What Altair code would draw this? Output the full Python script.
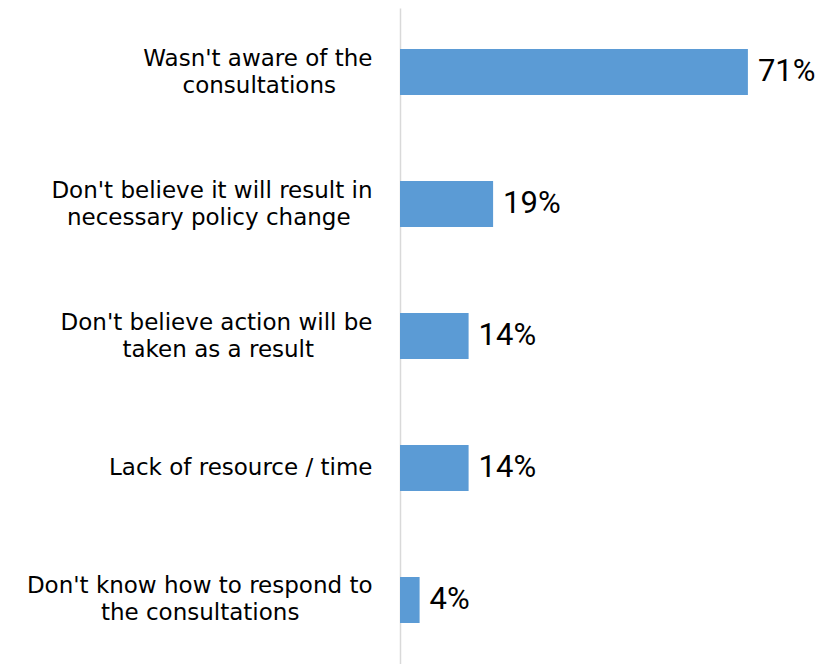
import altair as alt
import pandas as pd

categories = [
    "Wasn't aware of the|consultations",
    "Don't believe it will result in|necessary policy change",
    "Don't believe action will be|taken as a result",
    "Lack of resource / time",
    "Don't know how to respond to|the consultations",
]
values = [71, 19, 14, 14, 4]
value_labels = ["71%", "19%", "14%", "14%", "4%"]

PAD_CHAR = "\u00a0"  # no-break space
END_CHAR = "\u2060"  # word joiner keeps the trailing padding from hanging

# rough advance widths (em) of DejaVu Sans, used only to centre label lines
_W = {" ": .318, "'": .275, "i": .278, "l": .278, "j": .278, "t": .392,
      "f": .352, "r": .411, "/": .337, "s": .521, "c": .55, "z": .525,
      "k": .579, "v": .592, "y": .592, "x": .592, "m": .974, "w": .818,
      "W": .989, "D": .77, "L": .557, "T": .611}
_NBSP = .318


def _width(s):
    return sum(_W.get(ch, .62) for ch in s)


def centre_lines(label):
    lines = label.split("|")
    longest = max(_width(l) for l in lines)
    out = []
    for l in lines:
        n = int(round((longest - _width(l)) / 2 / _NBSP))
        out.append(l + PAD_CHAR * n + (END_CHAR if n else ""))
    return "|".join(out)


display = [centre_lines(c) for c in categories]

df = pd.DataFrame({"cat": display, "val": values, "lab": value_labels})

LABEL_FONT = "DejaVu Sans"
VALUE_FONT = "Roboto"
LINE_H = 27

y = alt.Y(
    "cat:N",
    sort=display,
    scale=alt.Scale(paddingInner=0.6515, paddingOuter=0.3106),
    axis=alt.Axis(
        title=None,
        labelExpr="split(datum.label, '|')",
        labelFont=LABEL_FONT,
        labelFontSize=23,
        labelColor="#000000",
        labelLineHeight=LINE_H,
        labelOffset={
            "condition": {"test": "indexof(datum.value, '|') >= 0", "value": -LINE_H / 2},
            "value": 0,
        },
        labelPadding=28,
        labelLimit=420,
        ticks=False,
        domainColor="#D9D9D9",
        domainWidth=1.5,
        grid=False,
    ),
)
x = alt.X("val:Q", scale=alt.Scale(domain=[0, 80]), axis=None)

bars = alt.Chart(df).mark_bar(color="#5B9BD5").encode(x=x, y=y)
text = alt.Chart(df).mark_text(
    align="left", baseline="middle", dx=10, font=VALUE_FONT, fontSize=31, color="#000000"
).encode(x=x, y=alt.Y("cat:N", sort=display), text="lab:N")

chart = (
    (bars + text)
    .properties(
        width=392,
        height=656,
        background="white",
        autosize=alt.AutoSizeParams(type="none"),
        padding={"left": 392, "top": 0, "right": 28, "bottom": 0},
    )
    .configure_view(strokeWidth=0)
)

chart.save("out.html", embed_options={"renderer": "svg", "actions": False})
